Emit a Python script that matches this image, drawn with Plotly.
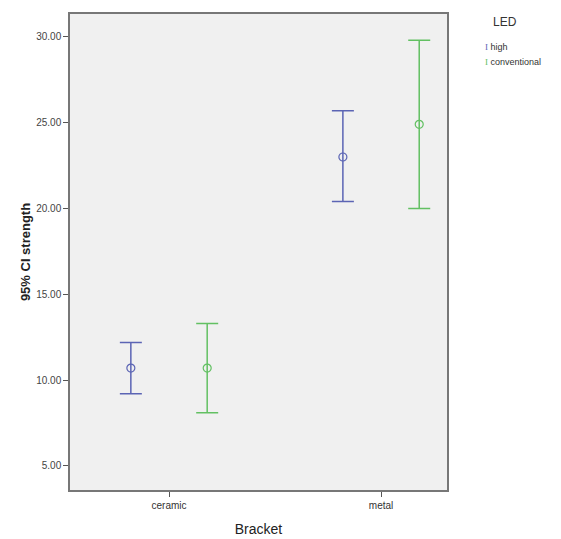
import plotly.graph_objects as go

categories = ["ceramic", "metal"]
groups = ["high", "conventional"]
means_high = [10.7, 23.0]
upper_high = [12.2, 25.7]
lower_high = [9.2, 20.4]
means_conv = [10.7, 24.9]
upper_conv = [13.3, 29.8]
lower_conv = [8.1, 20.0]
y_ticks = [5, 10, 15, 20, 25, 30]

colors = {"high": "#5b64b4", "conventional": "#62c062"}
offset = 0.18

fig = go.Figure()
series = [
    ("high", means_high, upper_high, lower_high, -offset),
    ("conventional", means_conv, upper_conv, lower_conv, offset),
]
for name, m, u, l, off in series:
    xs = [i + off for i in range(len(categories))]
    fig.add_trace(go.Scatter(
        x=xs, y=m, mode="markers", name=name,
        marker=dict(symbol="circle-open", size=8, color=colors[name], line=dict(width=1.2)),
        error_y=dict(type="data", symmetric=False,
                     array=[a - b for a, b in zip(u, m)],
                     arrayminus=[b - c for b, c in zip(m, l)],
                     color=colors[name], thickness=1.5, width=11),
        showlegend=False,
    ))

# page body has an 8px default margin; size the figure to fit the 561x539 window
fig.update_layout(
    width=553, height=531,
    margin=dict(l=62, r=114, t=4, b=49),
    paper_bgcolor="white", plot_bgcolor="#f0f0f0",
    font=dict(family="Liberation Sans, Arial", color="#333"),
    xaxis=dict(range=[-0.467, 1.311], tickvals=list(range(len(categories))),
               ticktext=categories, ticks="outside", ticklen=5, tickcolor="#555",
               showgrid=False, zeroline=False, showline=True, linecolor="#777",
               linewidth=1.5, mirror=True, tickfont=dict(size=10, color="#333"),
               title=dict(text="Bracket", font=dict(size=14, color="#222"), standoff=14)),
    yaxis=dict(range=[3.6, 31.33], tickvals=y_ticks,
               ticktext=[f"{v:.2f}" for v in y_ticks], ticks="outside", ticklen=5,
               tickcolor="#555", showgrid=False, zeroline=False, showline=True,
               linecolor="#777", linewidth=1.5, mirror=True,
               tickfont=dict(size=10, color="#444"),
               title=dict(text="<b>95% CI strength</b>", font=dict(size=13, color="#222"), standoff=3)),
)

fig.add_annotation(xref="paper", yref="paper", x=1.154, y=0.983, xanchor="center", yanchor="middle",
                   text="LED", showarrow=False, font=dict(size=12, color="#333"))
for i, g in enumerate(groups):
    fig.add_annotation(xref="paper", yref="paper", x=1.095, y=0.931 - i * 0.031,
                       xanchor="left", yanchor="middle", showarrow=False,
                       text=f"<span style='color:{colors[g]};font-family:Liberation Serif'>I</span> {g}",
                       font=dict(size=9, color="#333"))

fig.write_html("out.html")
